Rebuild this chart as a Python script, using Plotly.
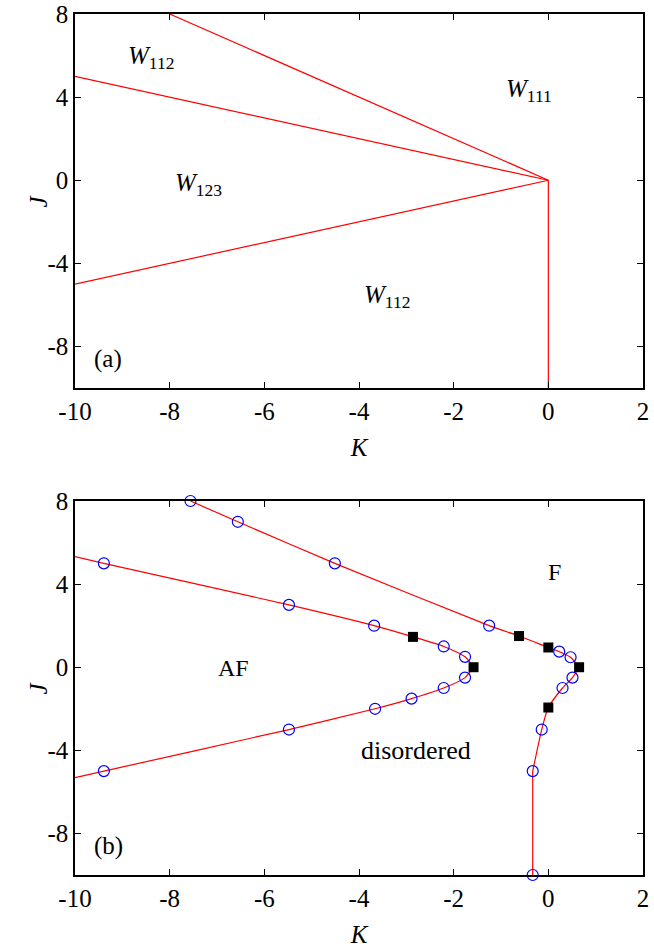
import plotly.graph_objects as go

# ---------- panel (a): ground-state boundaries ----------
a_b1_K = [-8, 0];   a_b1_J = [8, 0]
a_b2_K = [-10, 0];  a_b2_J = [5, 0]
a_b3_K = [-10, 0];  a_b3_J = [-5, 0]
a_b4_K = [0, 0];    a_b4_J = [0, -10]

# ---------- panel (b): phase boundaries ----------
# F / disordered boundary (upper part)
fb_up_K = [-7.56, -6.56, -4.51, -1.25, -0.62, 0.0, 0.23, 0.47, 0.65]
fb_up_J = [8, 7, 5, 2, 1.5, 0.95, 0.75, 0.48, 0]
# F / disordered boundary (lower part)
fb_lo_K = [0.65, 0.51, 0.30, 0.0, -0.14, -0.33]
fb_lo_J = [0, -0.5, -1, -1.94, -3, -5]
fb_vert_K = [-0.33, -0.33]
fb_vert_J = [-5, -10]
# AF / disordered boundary
af_up_K = [-10, -9.39, -5.48, -3.68, -2.86, -2.21, -1.76, -1.58]
af_up_J = [5.32, 5, 3, 2, 1.46, 1, 0.5, 0]
af_lo_K = [-1.58, -1.76, -2.21, -2.89, -3.66, -5.48, -9.39, -10]
af_lo_J = [0, -0.5, -1, -1.51, -2, -3, -5, -5.31]

# data points (open circles)
circ_K = [-7.56, -6.56, -4.51, -1.25, 0.23, 0.47, 0.51, 0.30, -0.14, -0.33, -0.33,
          -9.39, -5.48, -3.68, -2.21, -1.76, -1.76, -2.21, -2.89, -3.66, -5.48, -9.39]
circ_J = [8, 7, 5, 2, 0.75, 0.48, -0.5, -1, -3, -5, -10,
          5, 3, 2, 1, 0.5, -0.5, -1, -1.51, -2, -3, -5]
# data points (filled squares)
sq_K = [-0.62, 0.0, 0.65, 0.0, -2.86, -1.58]
sq_J = [1.5, 0.95, 0, -1.94, 1.46, 0]

x_ticks = [-10, -8, -6, -4, -2, 0, 2]
x_ticktext = ["-10", "-8", "-6", "-4", "-2", "0", "2"]
y_ticks = [8, 4, 0, -4, -8]
y_ticktext = ["8", "4", "0", "-4", "-8"]

FONT = "Liberation Serif"
RED = "#ff0000"
TICKSIZE = 25

fig = go.Figure()

def red_line(xs, ys, xa, ya, shape="linear"):
    fig.add_trace(go.Scatter(x=xs, y=ys, mode="lines", xaxis=xa, yaxis=ya,
                             line=dict(color=RED, width=1.2, shape=shape, smoothing=0.6),
                             showlegend=False, hoverinfo="skip"))

for xs, ys in [(a_b1_K, a_b1_J), (a_b2_K, a_b2_J), (a_b3_K, a_b3_J), (a_b4_K, a_b4_J)]:
    red_line(xs, ys, "x", "y")

red_line(fb_up_K, fb_up_J, "x2", "y2", "spline")
red_line(fb_lo_K, fb_lo_J, "x2", "y2", "spline")
red_line(fb_vert_K, fb_vert_J, "x2", "y2")
red_line(af_up_K, af_up_J, "x2", "y2", "spline")
red_line(af_lo_K, af_lo_J, "x2", "y2", "spline")

fig.add_trace(go.Scatter(x=circ_K, y=circ_J, mode="markers", xaxis="x2", yaxis="y2",
                         marker=dict(symbol="circle-open", size=11, color="#0000ff",
                                     line=dict(width=1.2, color="#0000ff")),
                         showlegend=False, cliponaxis=False))
fig.add_trace(go.Scatter(x=sq_K, y=sq_J, mode="markers", xaxis="x2", yaxis="y2",
                         marker=dict(symbol="square", size=10, color="#000000"),
                         showlegend=False, cliponaxis=False))

axis_common = dict(range=[-10, 2], tickvals=x_ticks, ticktext=x_ticktext,
                   showgrid=False, zeroline=False, showline=True, linecolor="black",
                   linewidth=1.5, mirror="ticks", ticks="inside", ticklen=6,
                   tickcolor="black", tickwidth=1, automargin=False,
                   tickfont=dict(family=FONT, size=TICKSIZE, color="black"))
yaxis_common = dict(range=[-10, 8], tickvals=y_ticks, ticktext=y_ticktext,
                    showgrid=False, zeroline=False, showline=True, linecolor="black",
                    linewidth=1.5, mirror="ticks", ticks="inside", ticklen=6,
                    tickcolor="black", tickwidth=1, automargin=False,
                    tickfont=dict(family=FONT, size=TICKSIZE, color="black"))

top_dom = [1 - 374 / 861, 1]
bot_dom = [0, 374 / 861]

fig.update_layout(
    width=654, height=948,
    margin=dict(l=75, r=11, t=14, b=73),
    paper_bgcolor="white", plot_bgcolor="white",
    font=dict(family=FONT, size=24, color="black"),
    xaxis=dict(axis_common, domain=[0, 1], anchor="y",
               title=dict(text="<i>K</i>", font=dict(family=FONT, size=25))),
    yaxis=dict(yaxis_common, domain=top_dom, anchor="x"),
    xaxis2=dict(axis_common, domain=[0, 1], anchor="y2",
                title=dict(text="<i>K</i>", font=dict(family=FONT, size=25))),
    yaxis2=dict(yaxis_common, domain=bot_dom, anchor="x2"),
)

def label(text, x, y, xa, ya, size=25):
    fig.add_annotation(text=text, x=x, y=y, xref=xa, yref=ya, showarrow=False,
                       font=dict(family=FONT, size=size, color="black"))

# y-axis titles (J), placed next to each panel
for yd in ["y domain", "y2 domain"]:
    fig.add_annotation(text="<i>J</i>", x=0, xref="paper", xshift=-53,
                       y=0.5, yref=yd, showarrow=False, textangle=-90,
                       font=dict(family=FONT, size=25, color="black"))

label("<i>W</i><sub>112</sub>", -8.4, 5.9, "x", "y")
label("<i>W</i><sub>111</sub>", -0.4, 4.3, "x", "y")
label("<i>W</i><sub>123</sub>", -7.4, -0.2, "x", "y")
label("<i>W</i><sub>112</sub>", -3.4, -5.6, "x", "y")
label("(a)", -9.3, -8.6, "x", "y")

label("F", 0.14, 4.6, "x2", "y2", 24)
label("AF", -6.66, -0.05, "x2", "y2", 24)
label("disordered", -2.8, -4.0, "x2", "y2", 26)
label("(b)", -9.3, -8.6, "x2", "y2")

fig.write_html("out.html")
